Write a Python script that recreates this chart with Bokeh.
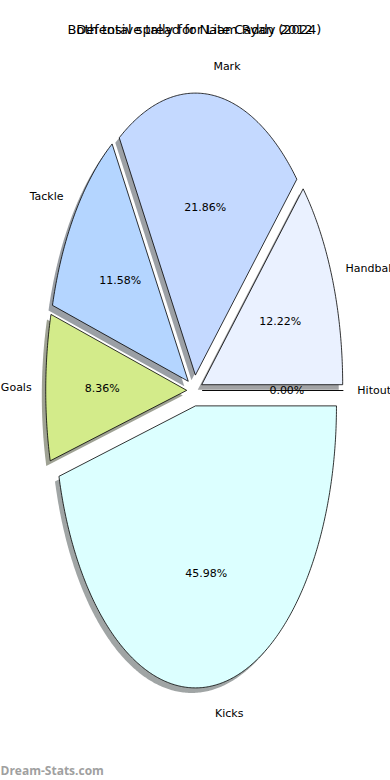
import numpy as np
from bokeh.plotting import figure
from bokeh.models import Range1d, ColumnDataSource
from bokeh.core.properties import value
from bokeh.embed import file_html
from bokeh.resources import INLINE

# ---- data ----
categories = ["Hitout", "Handball", "Mark", "Tackle", "Goals", "Kicks"]
shares = [0.00, 12.22, 21.86, 11.58, 8.36, 45.98]
colors = ["#f0f0ff", "#eaf1ff", "#c4d9ff", "#b4d5ff", "#d3eb8a", "#dcffff"]
title_a = "Both total spread for Liam Ryan (2024)"
title_b = "Defensive tally for Nate Caddy 2012"
watermark = "Dream-Stats.com"

explode = 0.055
shadow_dx, shadow_dy = -0.028, -0.018
label_dist = 1.1
pct_dist = 0.6

p = figure(width=390, height=780, output_backend="svg", toolbar_location=None,
           x_range=Range1d(-1.3759, 1.3901), y_range=Range1d(-1.383, 1.383),
           min_border=0, outline_line_color=None)
p.axis.visible = False
p.grid.visible = False
p.background_fill_color = "white"
p.border_fill_color = "white"

vals = np.array(shares)
fr = vals / vals.sum()
starts = np.concatenate([[0], np.cumsum(fr)[:-1]]) * 2 * np.pi
ends = np.cumsum(fr) * 2 * np.pi

xs, ys, sxs, sys_ = [], [], [], []
lx, ly, lalign, px, py, ptxt = [], [], [], [], [], []
shadow_cols = []
for i, (a0, a1) in enumerate(zip(starts, ends)):
    mid = (a0 + a1) / 2
    cx, cy = explode * np.cos(mid), explode * np.sin(mid)
    n = max(int((a1 - a0) / 0.01), 2)
    th = np.linspace(a0, a1, n)
    wx = [cx] + list(cx + np.cos(th)) + [cx]
    wy = [cy] + list(cy + np.sin(th)) + [cy]
    xs.append(wx); ys.append(wy)
    sxs.append([v + shadow_dx for v in wx]); sys_.append([v + shadow_dy for v in wy])
    c = colors[i].lstrip("#")
    rgb = [int(c[k:k + 2], 16) for k in (0, 2, 4)]
    sc = [int(0.5 * 0.3 * v + 0.5 * 255) for v in rgb]
    shadow_cols.append("#%02x%02x%02x" % tuple(sc))
    lx.append(cx + label_dist * np.cos(mid)); ly.append(cy + label_dist * np.sin(mid))
    lalign.append("left" if np.cos(mid) > 0 else "right")
    px.append(cx + pct_dist * np.cos(mid)); py.append(cy + pct_dist * np.sin(mid))
    ptxt.append("%.2f%%" % shares[i])

p.patches(sxs, sys_, fill_color=shadow_cols, line_color=None)
p.patches(xs, ys, fill_color=colors, line_color="black", line_width=0.8)

lab = ColumnDataSource(dict(x=lx, y=ly, t=categories, a=lalign))
p.text("x", "y", text="t", source=lab, text_align="a", text_baseline="middle",
       text_font=value("DejaVu Sans"), text_font_size="11px", text_color="black")
pct = ColumnDataSource(dict(x=px, y=py, t=ptxt))
p.text("x", "y", text="t", source=pct, text_align="center", text_baseline="middle",
       text_font=value("DejaVu Sans"), text_font_size="11px", text_color="black")

for t in (title_a, title_b):
    p.text([0.0], [1.28], text=[t], text_align="center", text_baseline="middle",
           text_font=value("DejaVu Sans"), text_font_size="13px", text_color="black")

p.text([-1.3759], [-1.3475], text=[watermark], text_align="left", text_baseline="middle",
       text_font=value("Open Sans"), text_font_size="12px", text_font_style="bold",
       text_color="#a0a0a0")

open("out.html", "w").write(file_html(p, INLINE))
